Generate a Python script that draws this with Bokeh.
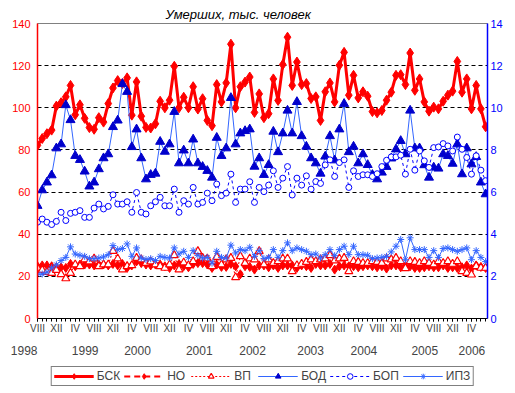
from bokeh.plotting import figure
from bokeh.models import Range1d, LinearAxis, FixedTicker, Legend, LegendItem, Grid, Title
from bokeh.layouts import column
from bokeh.embed import file_html
from bokeh.resources import INLINE

# ---------------- data ----------------
months = list(range(96))  # VIII 1998 ... VII 2006
month_tick_pos = list(range(0, 93, 4))
month_tick_labels = ["VIII", "XII", "IV"] * 8
year_labels = ["1998", "1999", "2000", "2001", "2002", "2003", "2004", "2005", "2006"]
year_pos = [0, 10.1, 21.2, 34.3, 45.6, 57.9, 69.2, 82.1, 92.1]

bsk = [82.2, 85.4, 87.7, 89.4, 100.8, 102.4, 105.2, 110.6, 96.7, 101.4,
       95.0, 90.6, 89.8, 95.3, 93.2, 102.0, 109.4, 112.9, 111.5, 114.2,
       96.5, 112.3, 96.0, 90.7, 90.4, 92.4, 103.1, 100.0, 103.6, 119.7,
       100.0, 105.0, 100.0, 110.0, 99.4, 104.3, 94.0, 91.5, 111.0, 102.8,
       111.8, 130.2, 100.0, 110.0, 112.2, 114.6, 97.8, 106.6, 95.3, 97.2,
       113.7, 103.5, 120.5, 133.5, 110.6, 121.7, 111.0, 111.5, 104.4, 105.2,
       94.0, 107.6, 111.8, 102.8, 120.2, 126.3, 106.0, 115.4, 104.7, 107.6,
       105.5, 98.2, 97.6, 98.7, 103.6, 107.4, 115.4, 115.7, 111.0, 126.0,
       108.3, 113.7, 102.8, 98.4, 100.3, 99.5, 103.1, 106.0, 107.9, 122.0,
       107.4, 113.7, 99.5, 110.6, 99.5, 91.0]
no = [24.8, 25.2, 25.2, 24.8, 24.3, 24.3, 24.0, 25.9, 24.8, 25.6,
      25.6, 25.6, 25.2, 25.6, 25.6, 25.2, 25.9, 25.2, 25.9, 24.0,
      25.2, 27.1, 26.3, 25.6, 25.2, 25.6, 25.6, 24.8, 24.0, 25.2,
      25.9, 24.8, 24.3, 25.9, 26.3, 26.3, 25.6, 24.0, 25.6, 24.5,
      24.5, 25.9, 24.8, 21.0, 24.8, 24.5, 23.2, 25.2, 25.2, 24.3,
      25.2, 24.0, 25.2, 25.2, 25.2, 24.0, 25.2, 24.8, 24.0, 25.9,
      25.2, 25.2, 25.9, 23.2, 24.8, 25.2, 24.8, 24.8, 24.3, 24.8,
      25.2, 24.8, 24.3, 24.8, 23.7, 25.2, 25.2, 24.3, 24.8, 24.8,
      24.0, 24.0, 24.3, 24.8, 24.3, 24.3, 25.2, 24.0, 24.3, 24.0,
      24.3, 25.2, 23.7, 25.2, 24.5, 24.0]
vp = [24.0, 23.0, 22.0, 21.6, 23.0, 21.0, 19.0, 21.6, 25.6, 24.8,
      28.0, 27.0, 28.4, 24.8, 25.6, 25.6, 32.0, 28.4, 23.2, 24.8,
      25.2, 28.7, 28.0, 26.3, 27.0, 25.6, 24.8, 24.0, 25.6, 30.0,
      23.2, 26.5, 25.2, 27.1, 31.9, 28.7, 28.4, 24.8, 29.2, 25.6,
      28.0, 28.7, 19.5, 29.5, 26.3, 28.4, 28.0, 31.9, 25.6, 28.0,
      26.3, 27.1, 28.4, 28.4, 22.4, 25.2, 25.9, 26.8, 28.0, 27.1,
      28.0, 28.4, 30.0, 27.5, 28.4, 28.7, 22.4, 27.1, 26.8, 26.3,
      26.3, 27.1, 26.8, 26.3, 28.4, 28.0, 28.7, 27.1, 23.8, 27.1,
      26.8, 26.3, 27.1, 26.3, 25.6, 27.1, 26.3, 27.1, 25.9, 27.1,
      22.4, 21.6, 20.8, 24.8, 24.0, 24.0]
bod = [5.35, 6.09, 6.46, 6.80, 8.08, 8.27, 10.13, 9.42, 7.72, 7.53,
       6.98, 6.27, 6.46, 7.09, 7.61, 7.80, 9.09, 9.40, 11.13, 10.76,
       8.14, 8.98, 7.61, 6.61, 6.82, 6.88, 8.39, 7.92, 8.27, 9.81,
       7.37, 7.98, 7.37, 8.50, 7.37, 7.20, 7.01, 6.69, 8.58, 7.72,
       8.08, 10.47, 8.27, 8.79, 8.90, 8.98, 7.21, 7.61, 6.82, 7.29,
       8.87, 7.90, 8.79, 9.87, 8.79, 10.28, 8.66, 8.16, 7.61, 7.37,
       6.88, 7.69, 8.66, 7.51, 8.98, 10.19, 7.90, 8.16, 7.37, 7.80,
       7.29, 6.82, 6.61, 6.93, 7.20, 7.60, 8.03, 8.43, 7.80, 9.87,
       8.08, 8.08, 7.28, 6.69, 7.17, 7.12, 7.80, 7.72, 7.35, 8.27,
       6.85, 8.08, 7.32, 7.67, 6.46, 5.90]
bop = [4.57, 4.72, 4.57, 4.46, 4.61, 5.04, 4.65, 4.99, 5.04, 5.12,
       4.80, 4.80, 5.24, 5.43, 5.20, 5.32, 5.87, 5.43, 5.43, 5.54,
       5.04, 5.98, 5.04, 4.96, 5.35, 5.54, 5.75, 5.35, 5.35, 6.14,
       5.04, 5.59, 5.43, 6.22, 5.43, 5.51, 5.95, 5.59, 6.38, 5.83,
       5.95, 6.85, 5.51, 6.14, 6.14, 6.49, 5.51, 6.22, 6.02, 6.33,
       7.01, 6.22, 6.66, 7.21, 5.86, 6.66, 6.33, 6.77, 6.14, 6.50,
       6.41, 7.29, 7.53, 6.74, 7.40, 7.53, 6.22, 7.01, 6.74, 6.82,
       6.82, 6.74, 6.87, 7.21, 7.51, 7.67, 7.67, 7.75, 6.85, 8.03,
       7.04, 7.95, 7.48, 7.17, 8.11, 8.14, 8.30, 8.19, 7.95, 8.61,
       8.03, 7.64, 6.85, 7.72, 7.04, 6.54]
ipz = [2.10, 2.11, 2.20, 2.40, 2.55, 2.75, 2.90, 3.40, 3.06, 3.00,
       2.95, 2.84, 2.84, 2.87, 2.92, 3.03, 3.46, 3.27, 3.32, 3.54,
       2.95, 3.35, 2.87, 2.80, 2.84, 2.75, 2.95, 2.90, 2.87, 3.35,
       3.06, 3.19, 2.90, 3.22, 3.00, 2.87, 2.90, 2.63, 3.19, 2.90,
       2.87, 3.48, 3.11, 3.27, 3.22, 3.38, 2.95, 3.22, 2.84, 2.90,
       3.27, 2.90, 3.22, 3.59, 3.22, 3.35, 3.27, 3.19, 3.03, 3.06,
       2.87, 3.03, 3.27, 2.98, 3.27, 3.43, 3.03, 3.43, 3.03, 3.03,
       3.00, 2.84, 2.87, 2.90, 2.95, 3.16, 3.43, 3.75, 2.79, 3.83,
       3.27, 3.27, 3.27, 2.90, 3.22, 2.90, 3.32, 3.35, 3.27, 3.19,
       3.27, 3.35, 2.79, 3.22, 2.90, 2.70]

left_ticks = list(range(0, 141, 20))
grid_ticks = list(range(20, 121, 20))
right_ticks = list(range(0, 15, 2))
title_text = "Умерших, тыс. человек"
names = ["БСК", "НО", "ВП", "БОД", "БОП", "ИПЗ"]

FONT = "Liberation Sans"
RED = "#FF0000"
BLUE = "#0000FF"
LBLUE = "#3366FF"
DBLUE = "#0000CC"

# series styles: (line kwargs, marker kwargs)
styles = [
    (dict(line_color=RED, line_width=3),
     dict(marker="diamond", size=10, fill_color=RED, line_color=RED)),
    (dict(line_color=RED, line_width=2, line_dash="6 4"),
     dict(marker="diamond", size=9, fill_color=RED, line_color=RED)),
    (dict(line_color=RED, line_width=1, line_dash="2 2"),
     dict(marker="triangle", size=8, fill_color="white", line_color=RED, line_width=1.2)),
    (dict(line_color=LBLUE, line_width=1),
     dict(marker="triangle", size=9, fill_color=DBLUE, line_color=DBLUE)),
    (dict(line_color=BLUE, line_width=1, line_dash="3 3"),
     dict(marker="circle", size=6, fill_color="white", line_color=BLUE, line_width=1)),
    (dict(line_color=LBLUE, line_width=1),
     dict(marker="asterisk", size=7, line_color=LBLUE, line_width=1)),
]
series = [bsk, no, vp, bod, bop, ipz]
on_right = [False, False, False, True, True, True]

# ---------------- main chart ----------------
p = figure(width=515, height=362,
           min_border_left=37, min_border_right=28, min_border_top=23, min_border_bottom=44,
           x_range=Range1d(0, 95.4), y_range=Range1d(0, 140),
           x_axis_type=None, y_axis_type=None,
           output_backend="svg", toolbar_location=None)
p.extra_y_ranges = {"r": Range1d(0, 14)}
p.outline_line_color = "#808080"
p.background_fill_color = "white"
p.border_fill_color = "white"

p.title = Title(text=title_text, align="left", offset=128, standoff=3,
                text_font=FONT, text_font_size="13px", text_font_style="italic",
                text_color="black")

p.add_layout(Grid(dimension=1, ticker=FixedTicker(ticks=grid_ticks),
                  grid_line_color="black", grid_line_dash="4 3", grid_line_width=1))

la = LinearAxis(ticker=FixedTicker(ticks=left_ticks))
la.axis_line_color = RED
la.axis_line_width = 1.5
la.major_tick_out = 0
la.major_tick_in = 0
la.minor_tick_out = 0
la.major_label_text_color = RED
la.major_label_text_font = FONT
la.major_label_text_font_size = "11px"
la.major_label_standoff = 7
p.add_layout(la, "left")

ra = LinearAxis(y_range_name="r", ticker=FixedTicker(ticks=right_ticks))
ra.axis_line_color = BLUE
ra.axis_line_width = 1.5
ra.major_tick_out = 0
ra.major_tick_in = 0
ra.minor_tick_out = 0
ra.major_label_text_color = BLUE
ra.major_label_text_font = FONT
ra.major_label_text_font_size = "11px"
ra.major_label_standoff = 3
p.add_layout(ra, "right")

ma = LinearAxis(ticker=FixedTicker(ticks=month_tick_pos, minor_ticks=months))
ma.major_label_overrides = {t: s for t, s in zip(month_tick_pos, month_tick_labels)}
ma.axis_line_color = "black"
ma.major_tick_out = 3
ma.major_tick_in = 0
ma.minor_tick_out = 3
ma.minor_tick_in = 0
ma.major_tick_line_color = "black"
ma.minor_tick_line_color = "black"
ma.major_label_text_font = FONT
ma.major_label_text_font_size = "10px"
ma.major_label_standoff = 1
ma.axis_label_standoff = 0
p.add_layout(ma, "below")

year_text = [year_labels[0] + "\u00a0" * 8] + year_labels[1:]
ya = LinearAxis(ticker=FixedTicker(ticks=year_pos))
ya.major_label_overrides = {t: s for t, s in zip(year_pos, year_text)}
ya.axis_line_color = None
ya.major_tick_line_color = None
ya.minor_tick_line_color = None
ya.major_tick_out = 0
ya.major_tick_in = 0
ya.minor_tick_out = 0
ya.major_label_text_font = FONT
ya.major_label_text_font_size = "12px"
ya.major_label_standoff = 7
ya.axis_label_standoff = 0
p.add_layout(ya, "below")

for ys, (lkw, mkw), right in zip(series, styles, on_right):
    extra = {"y_range_name": "r"} if right else {}
    p.line(months, ys, **lkw, **extra)
    p.scatter(months, ys, **mkw, **extra)

# ---------------- legend strip ----------------
# The series are re-plotted here only as legend keys; the y range keeps them out of view.
q = figure(width=515, height=31, min_border=0,
           x_range=Range1d(0, 1), y_range=Range1d(-20, -10),
           x_axis_type=None, y_axis_type=None,
           output_backend="svg", toolbar_location=None)
q.outline_line_color = None
q.grid.visible = False
items = []
for name, ys, (lkw, mkw) in zip(names, series, styles):
    lr = q.line(months, ys, **lkw)
    sr = q.scatter(months, ys, **mkw)
    items.append(LegendItem(label=name, renderers=[lr, sr]))
legend = Legend(items=items, orientation="horizontal", location="top_center",
                border_line_color="black", border_line_width=1,
                background_fill_color="white", background_fill_alpha=1,
                label_text_font=FONT, label_text_font_size="12px",
                glyph_width=40, glyph_height=14, label_height=14, label_standoff=3,
                spacing=4, padding=2, margin=4)
q.add_layout(legend, "center")

layout = column(p, q, spacing=0)
open("out.html", "w").write(file_html(layout, INLINE))
